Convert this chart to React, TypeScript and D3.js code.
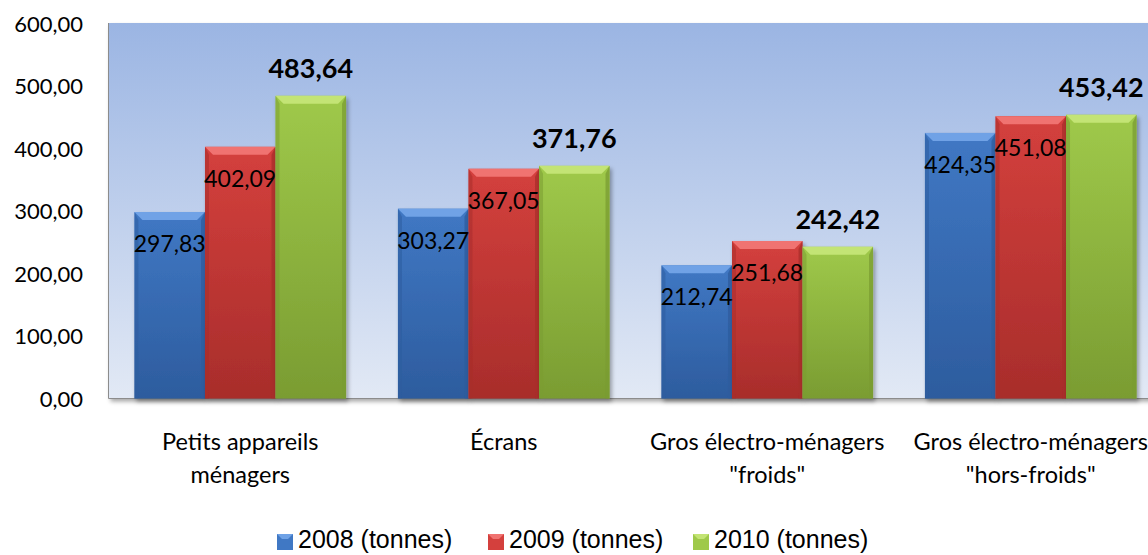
import React from "react";
import * as d3 from "d3";

// --- data ---
const CATEGORIES = [
  ["Petits appareils", "ménagers"],
  ["Écrans"],
  ["Gros électro-ménagers", "\"froids\""],
  ["Gros électro-ménagers", "\"hors-froids\""],
];
const SERIES = ["2008 (tonnes)", "2009 (tonnes)", "2010 (tonnes)"];
const V2008 = [297.83, 303.27, 212.74, 424.35];
const V2009 = [402.09, 367.05, 251.68, 451.08];
const V2010 = [483.64, 371.76, 242.42, 453.42];
const Y_TICKS = [0, 100, 200, 300, 400, 500, 600];

const W = 1148;
const H = 555;
const PLOT = { left: 108.5, top: 23, bottom: 398.5, step: 263.5 };

// base, light, dark per series
const COLORS = [
  { base: "#4078c4", light: "#6fa2e6", dark: "#2d5c9e" },
  { base: "#d4403d", light: "#f07371", dark: "#a82d2b" },
  { base: "#9fc94a", light: "#c3e474", dark: "#7a9c32" },
];

const fmt = (v: number) => v.toFixed(2).replace(".", ",");
const FONT = "Lato, 'Open Sans', sans-serif";

export default function App() {
  const values = [V2008, V2009, V2010];
  const x0 = d3
    .scaleBand<number>()
    .domain(d3.range(CATEGORIES.length))
    .range([PLOT.left, PLOT.left + PLOT.step * CATEGORIES.length])
    .paddingInner(0.197)
    .paddingOuter(0.0985);
  const x1 = d3
    .scaleBand<number>()
    .domain(d3.range(SERIES.length))
    .range([0, x0.bandwidth()]);
  const y = d3.scaleLinear().domain([0, 600]).range([PLOT.bottom, PLOT.top]);

  const bev = 8;

  return (
    <svg width={W} height={H} style={{ position: "absolute", left: 0, top: 0 }}>
      <defs>
        <linearGradient id="plotBg" x1="0" y1="0" x2="0" y2="1">
          <stop offset="0" stopColor="#9bb5e3" />
          <stop offset="1" stopColor="#e2e9f5" />
        </linearGradient>
        {COLORS.map((c, i) => (
          <linearGradient key={i} id={`bar${i}`} x1="0" y1="0" x2="0" y2="1">
            <stop offset="0" stopColor={c.base} />
            <stop offset="1" stopColor={c.dark} />
          </linearGradient>
        ))}
        <filter id="shadow" x="-10%" y="-10%" width="130%" height="130%">
          <feDropShadow dx="2" dy="3" stdDeviation="2" floodColor="#000" floodOpacity="0.35" />
        </filter>
      </defs>

      {/* plot area */}
      <rect
        x={PLOT.left}
        y={PLOT.top}
        width={W - PLOT.left + 20}
        height={PLOT.bottom - PLOT.top}
        fill="url(#plotBg)"
        filter="url(#shadow)"
      />
      <line x1={PLOT.left} x2={PLOT.left} y1={PLOT.top} y2={PLOT.bottom} stroke="#8c8c8c" strokeWidth={1} />
      <line x1={PLOT.left} x2={W} y1={PLOT.bottom} y2={PLOT.bottom} stroke="#8c8c8c" strokeWidth={1} />

      {/* y ticks */}
      {Y_TICKS.map((t) => (
        <text
          key={t}
          x={83}
          y={y(t)}
          textAnchor="end"
          dominantBaseline="central"
          fontFamily={FONT}
          fontSize={22}
          fill="#000"
        >
          {fmt(t)}
        </text>
      ))}

      {/* bars */}
      {values.map((vals, s) =>
        vals.map((v, i) => {
          const bx = (x0(i) as number) + (x1(s) as number);
          const bw = x1.bandwidth();
          const by = y(v);
          const bh = PLOT.bottom - by;
          const c = COLORS[s];
          return (
            <g key={`${s}-${i}`} filter="url(#shadow)">
              <rect x={bx} y={by} width={bw} height={bh} fill={`url(#bar${s})`} />
              {/* bevel top */}
              <polygon
                points={`${bx},${by} ${bx + bw},${by} ${bx + bw - bev},${by + bev} ${bx + bev},${by + bev}`}
                fill={c.light}
              />
              {/* bevel sides */}
              <polygon
                points={`${bx},${by} ${bx + bev * 0.5},${by + bev} ${bx + bev * 0.5},${PLOT.bottom} ${bx},${PLOT.bottom}`}
                fill={c.dark}
                opacity={0.55}
              />
              <polygon
                points={`${bx + bw},${by} ${bx + bw - bev * 0.5},${by + bev} ${bx + bw - bev * 0.5},${PLOT.bottom} ${bx + bw},${PLOT.bottom}`}
                fill={c.dark}
                opacity={0.75}
              />
            </g>
          );
        })
      )}

      {/* data labels */}
      {values.map((vals, s) =>
        vals.map((v, i) => {
          const cx = (x0(i) as number) + (x1(s) as number) + x1.bandwidth() / 2;
          const bold = s === 2;
          return (
            <text
              key={`l${s}-${i}`}
              x={cx}
              y={bold ? y(v) - 28 : y(v) + 31}
              textAnchor="middle"
              dominantBaseline="central"
              fontFamily={FONT}
              fontSize={bold ? 27 : 23}
              fontWeight={bold ? 700 : 400}
              fill="#000"
            >
              {fmt(v)}
            </text>
          );
        })
      )}

      {/* category labels */}
      {CATEGORIES.map((lines, i) => (
        <text
          key={i}
          x={(x0(i) as number) + x0.bandwidth() / 2}
          y={442}
          textAnchor="middle"
          fontFamily={FONT}
          fontSize={23.5}
          fill="#000"
        >
          {lines.map((ln, k) => (
            <tspan key={k} x={(x0(i) as number) + x0.bandwidth() / 2} dy={k === 0 ? 8 : 33}>
              {ln}
            </tspan>
          ))}
        </text>
      ))}

      {/* legend */}
      {SERIES.map((name, s) => {
        const lx = [277, 488, 693][s];
        const c = COLORS[s];
        return (
          <g key={name}>
            <rect x={lx} y={534} width={16} height={16} fill={c.base} />
            <polygon
              points={`${lx},534 ${lx + 16},534 ${lx + 11},539 ${lx + 5},539`}
              fill={c.light}
            />
            <text
              x={lx + 21}
              y={548}
              fontFamily="'Liberation Sans', Arial, sans-serif"
              fontSize={25}
              fill="#000"
            >
              {name}
            </text>
          </g>
        );
      })}
    </svg>
  );
}
